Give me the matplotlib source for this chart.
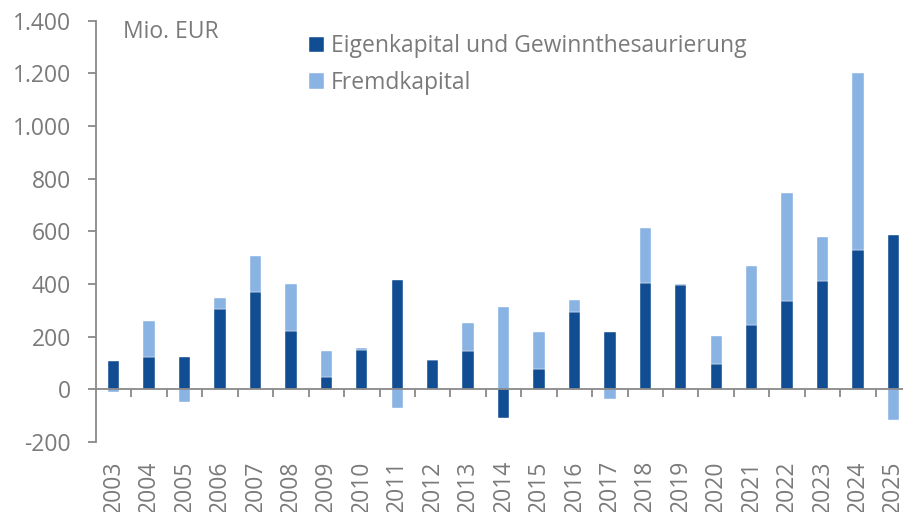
import matplotlib

matplotlib.use("Agg")
import matplotlib.pyplot as plt
import numpy as np

years = [str(y) for y in range(2003, 2026)]
eigenkapital = [109, 123, 123, 304, 369, 222, 46, 150, 416, 110, 147, -110,
                76, 293, 218, 403, 397, 95, 245, 337, 410, 530, 585]
fremdkapital = [-10, 138, -48, 41, 139, 178, 98, 8, -71, 0, 105, 313,
                141, 45, -38, 211, 2, 106, 225, 409, 169, 671, -118]
yticks = [-200, 0, 200, 400, 600, 800, 1000, 1200, 1400]

DARK = "#114d92"
LIGHT = "#89b3e3"
GREY = "#898989"
TEXT = "#7a7a7a"
FS = 16.5

plt.rcParams["font.family"] = ["Open Sans", "DejaVu Sans"]

fig = plt.figure(figsize=(9.04, 5.12), dpi=100)
ax = fig.add_axes([96 / 904, 1 - 442 / 512, 808 / 904, (442 - 20.7) / 512])

x = np.arange(len(years))
ek = np.array(eigenkapital, dtype=float)
fk = np.array(fremdkapital, dtype=float)
# stack positives upward and negatives downward from zero
fk_bottom = np.where(fk >= 0, np.maximum(ek, 0), np.minimum(ek, 0))

w = 0.32
ax.bar(x, ek, width=w, color=DARK, edgecolor="white", linewidth=0.3,
       label="Eigenkapital und Gewinnthesaurierung", zorder=2)
ax.bar(x, fk, width=w, bottom=fk_bottom, color=LIGHT, edgecolor="white",
       linewidth=0.3, label="Fremdkapital", zorder=2)

ax.set_xlim(-0.5, 22.3)
ax.set_ylim(-200, 1400)
ax.set_yticks(yticks)
ax.set_yticklabels([f"{v:,}".replace(",", ".") for v in yticks])

for s in ("top", "right"):
    ax.spines[s].set_visible(False)
ax.spines["bottom"].set_position(("data", 0))
for s in ("left", "bottom"):
    ax.spines[s].set_color(GREY)
    ax.spines[s].set_linewidth(1.3)
ax.spines["bottom"].set_zorder(3)

ax.set_xticks(x)
ax.set_xticklabels(years, rotation=90)
ax.set_xticks(np.arange(len(years) - 1) + 0.5, minor=True)
ax.tick_params(axis="x", which="major", length=0, pad=51, labelsize=FS,
               labelcolor=TEXT)
ax.tick_params(axis="x", which="minor", length=6, width=1.3, color=GREY,
               direction="out")
ax.tick_params(axis="y", length=6, width=1.3, color=GREY, labelsize=FS,
               labelcolor=TEXT, pad=12)

ax.text(0.033, 0.959, "Mio. EUR", transform=ax.transAxes, fontsize=FS,
        color=TEXT, va="baseline", ha="left")
ax.legend(loc="upper left", bbox_to_anchor=(0.2466, 1.0), frameon=False,
          fontsize=FS, labelcolor=TEXT, handlelength=0.65, handleheight=0.65,
          handletextpad=0.3, labelspacing=0.55, borderaxespad=0.2)

fig.savefig("out.png", dpi=100)
